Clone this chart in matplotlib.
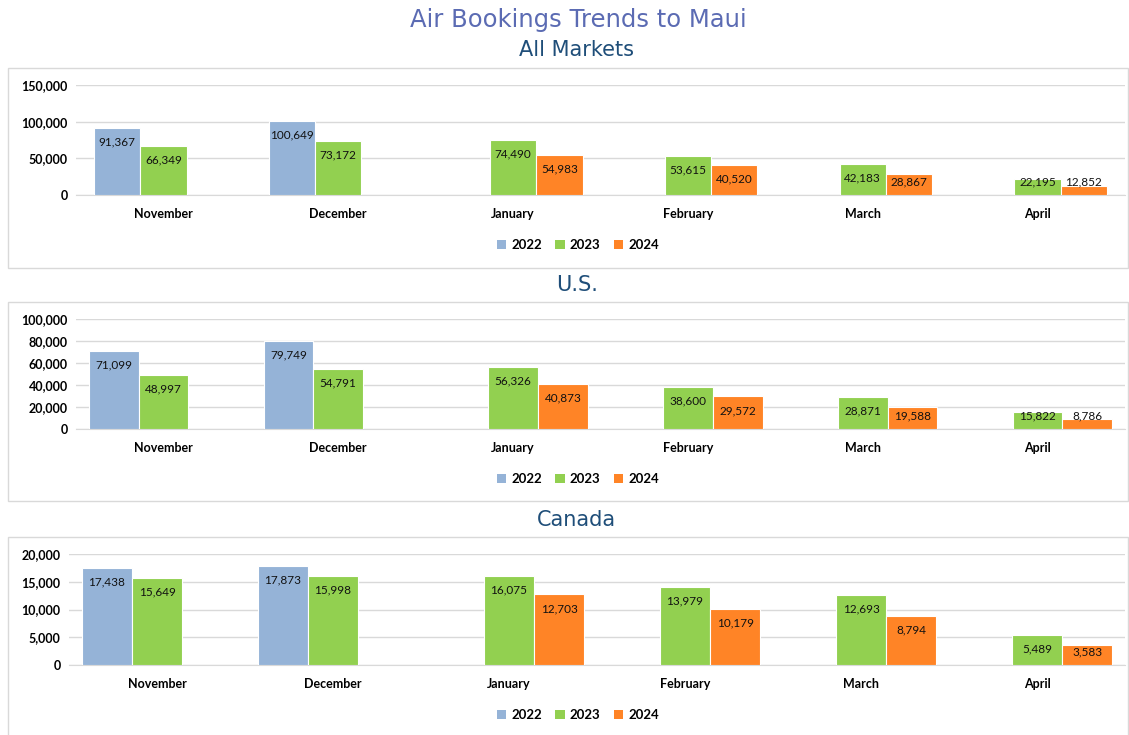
import matplotlib.pyplot as plt
from matplotlib.patches import Rectangle, Patch
import numpy as np

months = ['November', 'December', 'January', 'February', 'March', 'April']
years = ['2022', '2023', '2024']
colors = ['#95B3D7', '#92D050', '#FF8426']

# None = no bar for that year/month
all_2022 = [91367, 100649, None, None, None, None]
all_2023 = [66349, 73172, 74490, 53615, 42183, 22195]
all_2024 = [None, None, 54983, 40520, 28867, 12852]

us_2022 = [71099, 79749, None, None, None, None]
us_2023 = [48997, 54791, 56326, 38600, 28871, 15822]
us_2024 = [None, None, 40873, 29572, 19588, 8786]

ca_2022 = [17438, 17873, None, None, None, None]
ca_2023 = [15649, 15998, 16075, 13979, 12693, 5489]
ca_2024 = [None, None, 12703, 10179, 8794, 3583]

W, H = 1129, 735
fig = plt.figure(figsize=(W / 100, H / 100), dpi=100)
plt.rcParams['font.family'] = ['Lato', 'DejaVu Sans']


def fx(px):
    return px / W


def fy(py):
    return 1 - py / H


panels = [
    # title, series, ymax, step, axes px (left, top, bottom), box px (top, bottom), title y, legend y, bar width
    ('All Markets', (all_2022, all_2023, all_2024), 150000, 50000, (76, 85, 195), (68, 268), 50, 245, 0.265),
    ('U.S.', (us_2022, us_2023, us_2024), 100000, 20000, (76, 319, 429), (302, 501), 285, 479, 0.285),
    ('Canada', (ca_2022, ca_2023, ca_2024), 20000, 5000, (69, 554, 665), (537, 740), 520, 715, 0.285),
]

fig.text(0.512, fy(20), 'Air Bookings Trends to Maui', ha='center', va='center',
         fontsize=17.5, color='#5B6BB3', family='DejaVu Sans')

for title, series, ymax, step, (left, top, bottom), (btop, bbot), ty, ly, bw in panels:
    fig.patches.append(Rectangle((fx(8), fy(bbot)), fx(1128) - fx(8), fy(btop) - fy(bbot),
                                 transform=fig.transFigure, fill=False,
                                 edgecolor='#D9D9D9', linewidth=1))
    fig.text(0.511, fy(ty), title, ha='center', va='center', fontsize=15,
             color='#1F4E79', family='DejaVu Sans')

    ax = fig.add_axes([fx(left), fy(bottom), fx(1125) - fx(left), fy(top) - fy(bottom)])
    px_per_unit = (bottom - top) / ymax
    x = np.arange(len(months))
    for k, vals in enumerate(series):
        for i, v in enumerate(vals):
            if v is None:
                continue
            xi = x[i] + (k - 1) * bw
            ax.bar(xi, v, width=bw, color=colors[k], edgecolor='white', linewidth=0.8, zorder=3)
            # inside-end label, pushed up when the bar is short
            off = min(14, v * px_per_unit - 13)
            ax.text(xi, v - off / px_per_unit, f'{v:,}', ha='center', va='center',
                    fontsize=8.5, color='#111111', zorder=4)

    ax.set_xlim(-0.5, len(months) - 0.5)
    ax.set_ylim(0, ymax)
    ax.set_yticks(np.arange(0, ymax + 1, step))
    ax.yaxis.set_major_formatter(plt.FuncFormatter(lambda v, p: f'{int(v):,}'))
    ax.set_xticks(x)
    ax.set_xticklabels(months, fontweight='bold', fontsize=9)
    for lbl in ax.get_yticklabels():
        lbl.set_fontweight('bold')
        lbl.set_fontsize(9)
    ax.tick_params(length=0, pad=6)
    ax.tick_params(axis='x', pad=9)
    ax.grid(axis='y', color='#D9D9D9', linewidth=1, zorder=0)
    for s in ax.spines.values():
        s.set_visible(False)
    ax.spines['bottom'].set_visible(True)
    ax.spines['bottom'].set_color('#D9D9D9')

    handles = [Patch(facecolor=c, label=y) for c, y in zip(colors, years)]
    fig.legend(handles=handles, loc='center', bbox_to_anchor=(0.512, fy(ly)), ncol=3,
               frameon=False, handlelength=0.7, handleheight=0.7, handletextpad=0.4,
               columnspacing=1.0, prop={'weight': 'bold', 'size': 9.5})

plt.savefig('out.png', dpi=100)
